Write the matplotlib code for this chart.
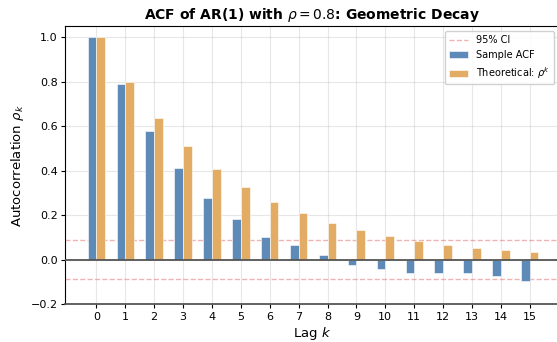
import numpy as np
import matplotlib.pyplot as plt

# --- data ---
lags = np.arange(16)
sample_acf = [1.0, 0.79, 0.58, 0.412, 0.277, 0.182, 0.105, 0.069,
              0.02, -0.021, -0.039, -0.057, -0.057, -0.057, -0.071, -0.093]
theoretical = [1.0, 0.8, 0.64, 0.512, 0.41, 0.328, 0.262, 0.21,
               0.168, 0.134, 0.107, 0.086, 0.069, 0.055, 0.044, 0.035]
ci_bound = 0.088

fig = plt.figure(figsize=(5.57, 3.42), dpi=100)
ax = fig.add_axes([0.117, 0.11, 0.886, 0.813])

w = 0.3
ax.bar(lags - w/2, sample_acf, width=w, color="#5E8AB8", edgecolor="white",
       linewidth=0.4, label="Sample ACF", zorder=3)
ax.bar(lags + w/2, theoretical, width=w, color="#E2AC64", edgecolor="white",
       linewidth=0.4, label=r"Theoretical: $\rho^k$", zorder=3)

ax.axhline(0, color="#555555", linewidth=1.3, zorder=4)
ax.axhline(ci_bound, color="tab:red", linestyle="--", linewidth=1, alpha=0.35,
           label="95% CI", zorder=2)
ax.axhline(-ci_bound, color="tab:red", linestyle="--", linewidth=1, alpha=0.35, zorder=2)

ax.set_xlim(-1.08, 16)
ax.set_ylim(-0.2, 1.05)
ax.set_xticks(lags)
ax.tick_params(labelsize=8, length=3, pad=2.5)
ax.spines["bottom"].set_color("#555555")
ax.spines["bottom"].set_linewidth(1.3)
ax.grid(True, alpha=0.3, zorder=0)
ax.set_axisbelow(True)

ax.set_xlabel("Lag $k$", fontsize=9.5, labelpad=2)
ax.set_ylabel(r"Autocorrelation $\rho_k$", fontsize=9.5, labelpad=3)
ax.set_title(r"ACF of AR(1) with $\rho = 0.8$: Geometric Decay", fontsize=10,
             fontweight="bold", pad=5)

ax.legend(loc="upper right", fontsize=7, framealpha=0.9)

plt.savefig("out.png", dpi=100)
